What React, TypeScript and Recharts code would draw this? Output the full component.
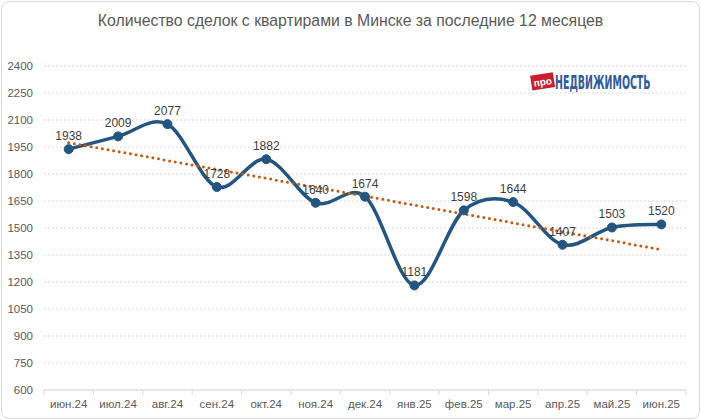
import React from "react";
import {
  CartesianGrid,
  LabelList,
  Line,
  LineChart,
  XAxis,
  YAxis,
} from "recharts";

const months = [
  "июн.24",
  "июл.24",
  "авг.24",
  "сен.24",
  "окт.24",
  "ноя.24",
  "дек.24",
  "янв.25",
  "фев.25",
  "мар.25",
  "апр.25",
  "май.25",
  "июн.25",
];

const deals = [1938, 2009, 2077, 1728, 1882, 1640, 1674, 1181, 1598, 1644, 1407, 1503, 1520];

// trend line: only the two ends, joined straight
const trend = [1974, null, null, null, null, null, null, null, null, null, null, null, 1380];

const yTicks = [600, 750, 900, 1050, 1200, 1350, 1500, 1650, 1800, 1950, 2100, 2250, 2400];

const WIDTH = 701;
const HEIGHT = 420;
const MARGIN = { top: 66, right: 15, bottom: 8, left: 8 };
const Y_AXIS_WIDTH = 36;
const X_AXIS_HEIGHT = 22;
const PLOT_WIDTH = WIDTH - MARGIN.left - MARGIN.right - Y_AXIS_WIDTH;
const BAND = PLOT_WIDTH / months.length;

const FONT = "'Liberation Sans', Arial, sans-serif";

const data = months.map((month, i) => ({
  month,
  deals: deals[i],
  trend: trend[i],
}));

// smooth like Excel's "smoothed line" (Catmull-Rom through the points)
function excelSmooth(context: any) {
  let pts: number[][] = [];
  return {
    areaStart() {},
    areaEnd() {},
    lineStart() {
      pts = [];
    },
    lineEnd() {
      const n = pts.length;
      if (!n) return;
      context.moveTo(pts[0][0], pts[0][1]);
      for (let i = 0; i < n - 1; i++) {
        const p0 = pts[i - 1] || pts[i];
        const p1 = pts[i];
        const p2 = pts[i + 1];
        const p3 = pts[i + 2] || pts[i + 1];
        context.bezierCurveTo(
          p1[0] + (p2[0] - p0[0]) / 6,
          p1[1] + (p2[1] - p0[1]) / 6,
          p2[0] - (p3[0] - p1[0]) / 6,
          p2[1] - (p3[1] - p1[1]) / 6,
          p2[0],
          p2[1]
        );
      }
    },
    point(x: number, y: number) {
      pts.push([+x, +y]);
    },
  };
}

function MonthTick(props: any) {
  const { x, y, payload, index } = props;
  const left = x - BAND / 2;
  return (
    <g>
      <line x1={left} y1={y - 8} x2={left} y2={y - 3} stroke="#D9D9D9" />
      {index === months.length - 1 && (
        <line x1={left + BAND} y1={y - 8} x2={left + BAND} y2={y - 3} stroke="#D9D9D9" />
      )}
      <text
        x={x}
        y={y + 10}
        textAnchor="middle"
        fill="#595959"
        fontSize={11.5}
        fontFamily={FONT}
      >
        {payload.value}
      </text>
    </g>
  );
}

function Logo() {
  return (
    <svg
      width={160}
      height={32}
      style={{ position: "absolute", left: 528, top: 64 }}
    >
      <g transform="rotate(-9 14 17)">
        <rect x={3} y={10} width={23} height={15} fill="#C8202F" />
        <text
          x={14.5}
          y={21.5}
          textAnchor="middle"
          fill="#fff"
          fontSize={10}
          fontWeight="bold"
          fontFamily={FONT}
        >
          про
        </text>
      </g>
      <g transform="translate(27 24.5) scale(0.54 1)">
        <text
          x={0}
          y={0}
          fill="#2F5C9B"
          fontSize={19.5}
          fontWeight="bold"
          fontFamily="'Liberation Sans Narrow', 'DejaVu Sans Condensed', sans-serif"
        >
          НЕДВИЖИМОСТЬ
        </text>
      </g>
    </svg>
  );
}

export default function App() {
  return (
    <div
      style={{
        position: "absolute",
        left: 0,
        top: 0,
        width: WIDTH,
        height: HEIGHT,
        background: "#fff",
        fontFamily: FONT,
      }}
    >
      <div
        style={{
          position: "absolute",
          left: 1,
          top: 1,
          width: WIDTH - 4,
          height: HEIGHT - 4,
          border: "1px solid #D9D9D9",
          borderRadius: 8,
        }}
      />
      <div
        style={{
          position: "absolute",
          left: 0,
          top: 12,
          width: WIDTH,
          textAlign: "center",
          fontSize: 15.8,
          color: "#595959",
        }}
      >
        Количество сделок с квартирами в Минске за последние 12 месяцев
      </div>
      <LineChart
        width={WIDTH}
        height={HEIGHT}
        data={data}
        margin={MARGIN}
        style={{ position: "absolute", left: 0, top: 0 }}
      >
        <CartesianGrid
          vertical={false}
          stroke="#D9D9D9"
          strokeDasharray="2 2"
        />
        <XAxis
          dataKey="month"
          scale="band"
          height={X_AXIS_HEIGHT}
          axisLine={{ stroke: "#D9D9D9" }}
          tickLine={false}
          interval={0}
          tick={<MonthTick />}
        />
        <YAxis
          domain={[600, 2400]}
          ticks={yTicks}
          width={Y_AXIS_WIDTH}
          axisLine={false}
          tickLine={false}
          tickMargin={5}
          interval={0}
          tick={{ fill: "#595959", fontSize: 11.5, fontFamily: FONT }}
        />
        <Line
          dataKey="deals"
          type={excelSmooth as any}
          stroke="#245580"
          strokeWidth={3.5}
          dot={{ r: 4.5, fill: "#245580", stroke: "#245580", strokeWidth: 1 }}
          activeDot={false}
          isAnimationActive={false}
        >
          <LabelList
            dataKey="deals"
            position="top"
            offset={9}
            fill="#404040"
            fontSize={12}
            fontFamily={FONT}
          />
        </Line>
        <Line
          dataKey="trend"
          type="linear"
          connectNulls
          stroke="#C65911"
          strokeWidth={3}
          strokeDasharray="0 5.7"
          strokeLinecap="round"
          dot={false}
          activeDot={false}
          isAnimationActive={false}
        />
      </LineChart>
      <Logo />
    </div>
  );
}
